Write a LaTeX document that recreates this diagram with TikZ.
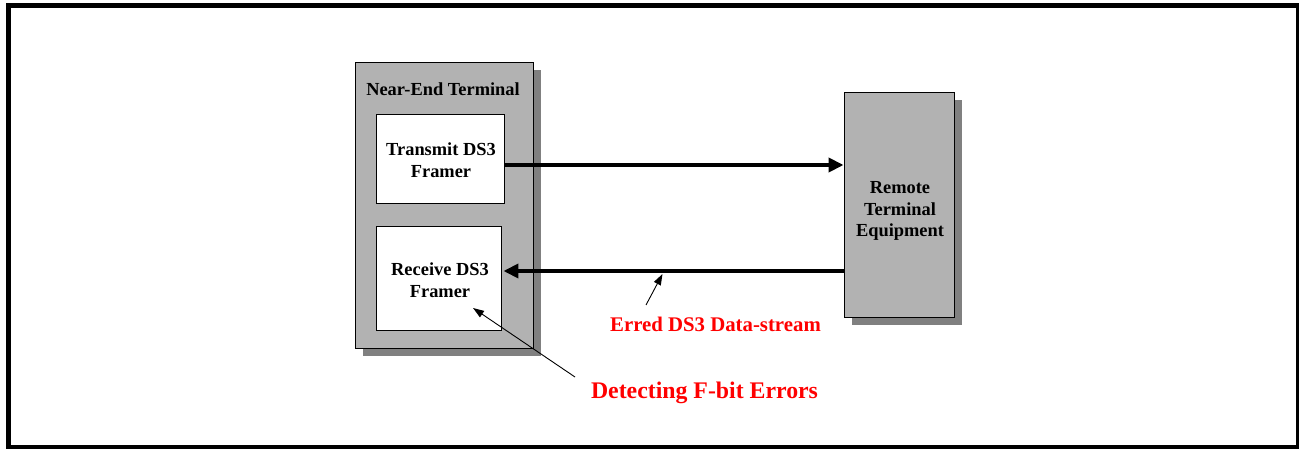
\documentclass[tikz,border=0pt]{standalone}
\usepackage{fontspec}
\setmainfont{Liberation Serif}
\usetikzlibrary{arrows.meta,shadows}
\definecolor{boxgray}{HTML}{B2B2B2}
\definecolor{shadowgray}{HTML}{808080}
\definecolor{alertred}{HTML}{FF0000}
\tikzset{
  x=1pt, y=1pt,
  shadowed/.style={draw=black, line width=0.9pt,
    drop shadow={shadow xshift=8pt, shadow yshift=-8pt, fill=shadowgray, opacity=1}},
  graybox/.style={shadowed, fill=boxgray, inner sep=0pt},
  whitebox/.style={draw=black, line width=0.9pt, fill=white, inner sep=0pt},
  lbl/.style={font=\bfseries\fontsize{18.4}{21.7}\selectfont, align=center, inner sep=0pt},
  redlbl/.style={font=\bfseries\fontsize{20.8}{24}\selectfont, text=alertred, inner sep=0pt},
  biglbl/.style={font=\bfseries\fontsize{23.8}{27}\selectfont, text=alertred, inner sep=0pt},
  bigarrow/.style={line width=4pt, -{Triangle[length=15pt,width=14pt]}},
  thinarrow/.style={line width=0.9pt, -{Triangle[length=11pt,width=7.5pt]}}
}
\begin{document}
\begin{tikzpicture}
\useasboundingbox (0,0) rectangle (1299,-449);
% outer frame
\draw[line width=5pt] (8,-5.5) rectangle (1298.5,-447.5);

% near-end terminal and its framers
\node[graybox, minimum width=178pt, minimum height=286pt] (ne) at (444,-205) {};
\node[lbl] (netitle) at (443,-89) {Near-End Terminal};
\node[whitebox, minimum width=128pt, minimum height=89pt] (tx) at (440,-158.5) {};
\node[lbl] (txtext) at (441,-160) {Transmit DS3\\Framer};
\node[whitebox, minimum width=125pt, minimum height=104pt] (rx) at (438.5,-278) {};
\node[lbl] (rxtext) at (440,-280) {Receive DS3\\Framer};

% remote side
\node[graybox, minimum width=110pt, minimum height=225pt] (rem) at (899,-204.5) {};
\node[lbl] (remtext) at (900,-211) {Remote\\Terminal\\Equipment};

% data paths
\draw[bigarrow] ([yshift=-6.5pt]tx.east) -- ([yshift=39.5pt]rem.west);
\draw[bigarrow, shorten >=2pt] ([yshift=-66.5pt]rem.west) -- ([yshift=7pt]rx.east);

% annotations
\node[redlbl] (erred) at (715.5,-324) {Erred DS3 Data-stream};
\coordinate (erredtail) at (646,-305);
\coordinate (erredtip) at (662.5,-274);
\draw[thinarrow] (erredtail) -- (erredtip);

\node[biglbl] (detect) at (704.5,-393) {Detecting F-bit Errors};
\coordinate (detecttail) at (575,-377);
\coordinate (detecttip) at (473,-308);
\draw[thinarrow] (detecttail) -- (detecttip);
\end{tikzpicture}
\end{document}
